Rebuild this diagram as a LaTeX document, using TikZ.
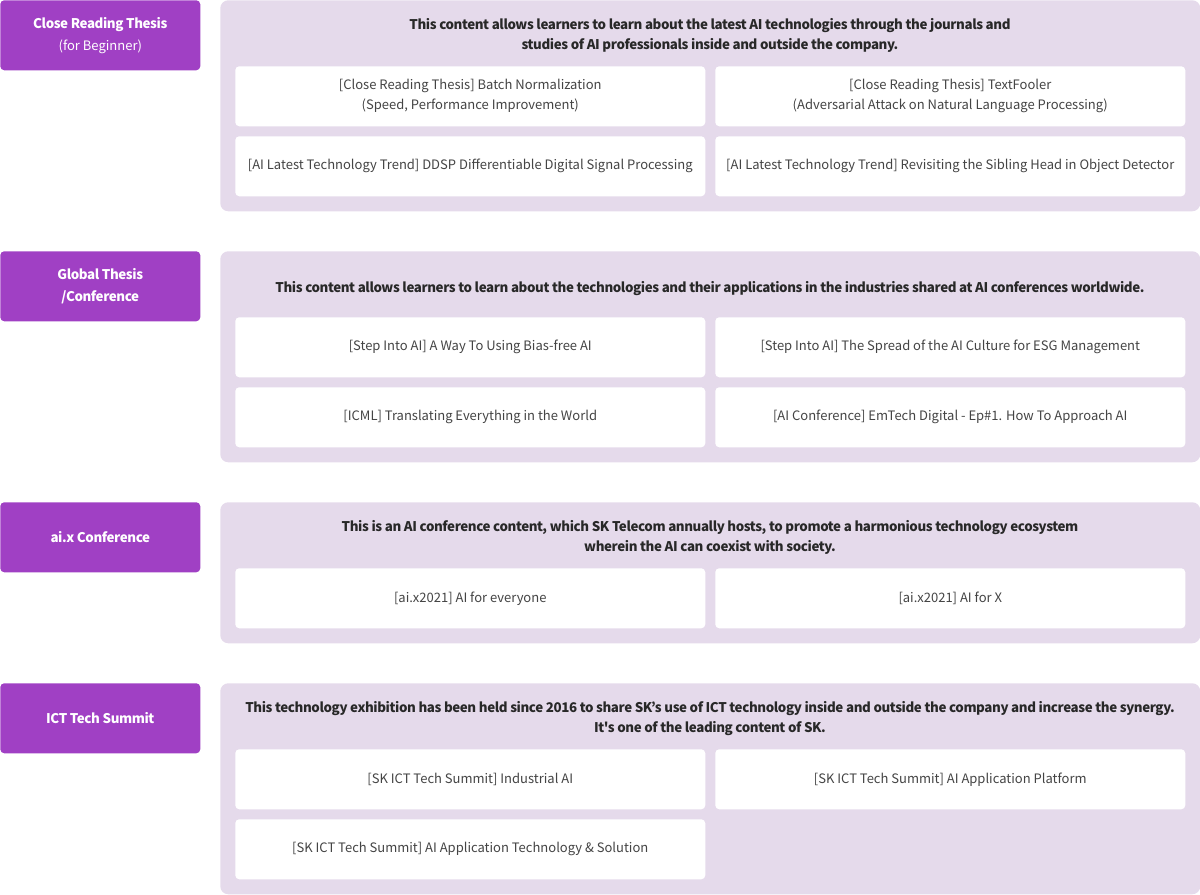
\documentclass[tikz,border=0pt]{standalone}
\usepackage{fontspec}
\newfontfamily\bodyfont{Noto Sans CJK KR}
\newfontfamily\headfont{Noto Sans CJK KR}[LetterSpace=-3]
\usepackage{tikz}
\definecolor{tagpurple}{RGB}{160,64,196}
\definecolor{panelbg}{RGB}{229,218,235}
\definecolor{headtext}{RGB}{40,40,40}
\definecolor{cardtext}{RGB}{68,68,68}

\begin{document}
\begin{tikzpicture}[x=0.75pt,y=-0.75pt,
tag/.style={fill=tagpurple,rounded corners=3pt,minimum width=150pt,minimum height=52.5pt,anchor=north west,inner sep=0pt,text=white,align=center,font=\fontsize{10}{16.5}\selectfont\headfont\bfseries},
panel/.style={fill=panelbg,rounded corners=6pt,minimum width=735pt,minimum height=#1,anchor=north west,inner sep=0pt},
card/.style={fill=white,rounded corners=3pt,minimum width=352.5pt,minimum height=45pt,anchor=north west,inner sep=0pt,align=center,text=cardtext,font=\fontsize{9.75}{15}\selectfont\bodyfont},
head/.style={text=headtext,align=center,font=\fontsize{10}{15}\selectfont\headfont\bfseries}]
\useasboundingbox (0,0) rectangle (1200,894);
% left tags
\node[tag] (tagA) at (0,0) {Close Reading Thesis\\{\bodyfont\mdseries\fontsize{9.75}{16.5}\selectfont(for Beginner)}};
\node[tag] (tagB) at (0,251) {Global Thesis\\/Conference};
\node[tag] (tagC) at (0,502) {ai.x Conference};
\node[tag] (tagD) at (0,683) {ICT Tech Summit};
% panels
\node[panel=158.25pt] (panA) at (220,0) {};
\node[panel=158.25pt] (panB) at (220,251) {};
\node[panel=105.75pt] (panC) at (220,502) {};
\node[panel=158.25pt] (panD) at (220,683) {};
% headings
\node[head] (headA) at (710,35.5) {This content allows learners to learn about the latest AI technologies through the journals and\\studies of AI professionals inside and outside the company.};
\node[head] (headB) at (710,288.5) {This content allows learners to learn about the technologies and their applications in the industries shared at AI conferences worldwide.};
\node[head] (headC) at (710,537.5) {This is an AI conference content, which SK Telecom annually hosts, to promote a harmonious technology ecosystem\\wherein the AI can coexist with society.};
\node[head] (headD) at (710,718.5) {This technology exhibition has been held since 2016 to share SK’s use of ICT technology inside and outside the company and increase the synergy.\\It's one of the leading content of SK.};
% cards
\node[card] (cardA1) at (235,66) {[Close Reading Thesis] Batch Normalization\\(Speed, Performance Improvement)};
\node[card] (cardA2) at (715,66) {[Close Reading Thesis] TextFooler\\(Adversarial Attack on Natural Language Processing)};
\node[card] (cardA3) at (235,136) {[AI Latest Technology Trend] DDSP Differentiable Digital Signal Processing};
\node[card] (cardA4) at (715,136) {[AI Latest Technology Trend] Revisiting the Sibling Head in Object Detector};
\node[card] (cardB1) at (235,317) {[Step Into AI] A Way To Using Bias-free AI};
\node[card] (cardB2) at (715,317) {[Step Into AI] The Spread of the AI Culture for ESG Management};
\node[card] (cardB3) at (235,387) {[ICML] Translating Everything in the World};
\node[card] (cardB4) at (715,387) {[AI Conference] EmTech Digital - Ep\#1. How To Approach AI};
\node[card] (cardC1) at (235,568) {[ai.x2021] AI for everyone};
\node[card] (cardC2) at (715,568) {[ai.x2021] AI for X};
\node[card] (cardD1) at (235,749) {[SK ICT Tech Summit] Industrial AI};
\node[card] (cardD2) at (715,749) {[SK ICT Tech Summit] AI Application Platform};
\node[card] (cardD3) at (235,819) {[SK ICT Tech Summit] AI Application Technology \& Solution};
\end{tikzpicture}
\end{document}
